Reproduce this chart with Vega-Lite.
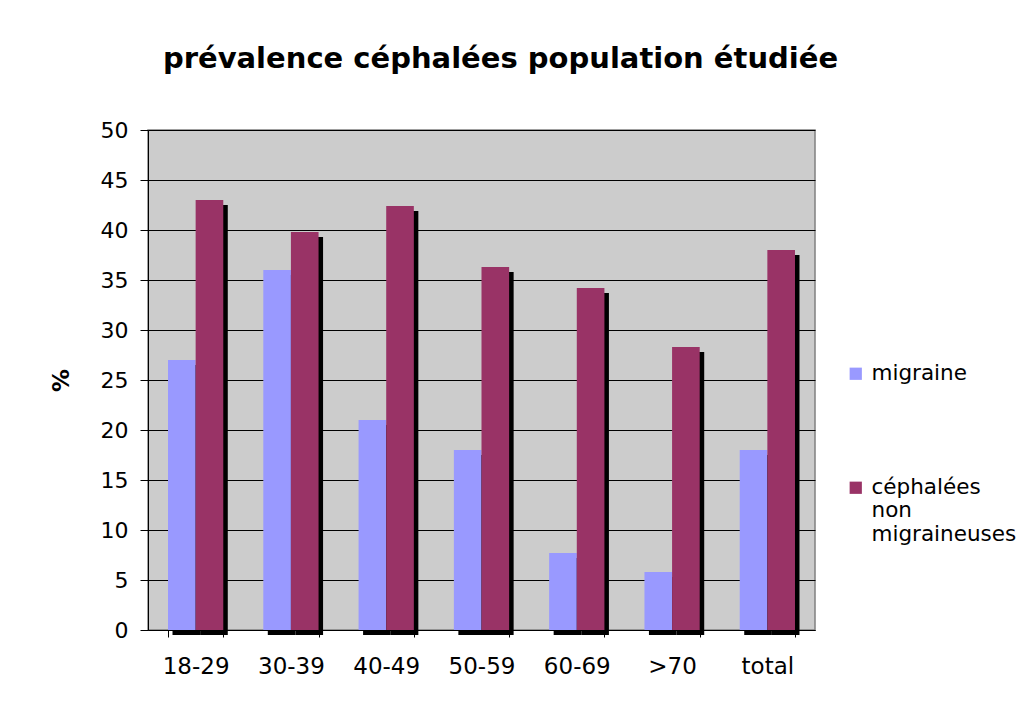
{
  "$schema": "https://vega.github.io/schema/vega-lite/v6.json",
  "width": 667,
  "height": 500,
  "autosize": {"type": "none"},
  "padding": {"left": 148, "top": 130, "right": 206, "bottom": 71},
  "background": "white",
  "title": {
    "text": "prévalence céphalées population étudiée",
    "font": "DejaVu Sans",
    "fontSize": 29,
    "fontWeight": "bold",
    "color": "black",
    "anchor": "middle",
    "dx": 19,
    "offset": 45
  },
  "data": {
    "values": [
      {"age": "18-29", "serie": "migraine", "pct": 27},
      {"age": "30-39", "serie": "migraine", "pct": 36},
      {"age": "40-49", "serie": "migraine", "pct": 21},
      {"age": "50-59", "serie": "migraine", "pct": 18},
      {"age": "60-69", "serie": "migraine", "pct": 7.7},
      {"age": ">70", "serie": "migraine", "pct": 5.8},
      {"age": "total", "serie": "migraine", "pct": 18},
      {"age": "18-29", "serie": "céphalées non migraineuses", "pct": 43},
      {"age": "30-39", "serie": "céphalées non migraineuses", "pct": 39.8},
      {"age": "40-49", "serie": "céphalées non migraineuses", "pct": 42.4},
      {"age": "50-59", "serie": "céphalées non migraineuses", "pct": 36.3},
      {"age": "60-69", "serie": "céphalées non migraineuses", "pct": 34.2},
      {"age": ">70", "serie": "céphalées non migraineuses", "pct": 28.3},
      {"age": "total", "serie": "céphalées non migraineuses", "pct": 38}
    ]
  },
  "encoding": {
    "x": {
      "field": "age",
      "type": "nominal",
      "sort": ["18-29", "30-39", "40-49", "50-59", "60-69", ">70", "total"],
      "scale": {"paddingInner": 0.42, "paddingOuter": 0.21},
      "axis": {
        "title": null,
        "labelAngle": 0,
        "labelFont": "DejaVu Sans",
        "labelFontSize": 23,
        "labelColor": "black",
        "labelPadding": 18,
        "tickBand": "extent",
        "tickSize": 7,
        "tickColor": "black",
        "domainColor": "black",
        "grid": false
      }
    },
    "y": {
      "field": "pct",
      "type": "quantitative",
      "scale": {"domain": [0, 50], "nice": false},
      "axis": {
        "title": "%",
        "titleFont": "DejaVu Sans",
        "titleFontSize": 23,
        "titleFontWeight": "bold",
        "titleColor": "black",
        "titlePadding": 27,
        "values": [0, 5, 10, 15, 20, 25, 30, 35, 40, 45, 50],
        "labelFont": "DejaVu Sans",
        "labelFontSize": 22,
        "labelColor": "black",
        "labelPadding": 12,
        "tickSize": 8,
        "tickColor": "black",
        "domainColor": "black",
        "grid": true,
        "gridColor": "black",
        "gridWidth": 1
      }
    }
  },
  "layer": [
    {
      "mark": {"type": "bar", "color": "black", "yOffset": 5, "y2Offset": 2},
      "encoding": {
        "xOffset": {
          "field": "serie",
          "type": "nominal",
          "sort": ["migraine", "céphalées non migraineuses"],
          "scale": {"paddingInner": 0, "paddingOuter": 0, "range": [4.5, 59.77]}
        }
      }
    },
    {
      "mark": {"type": "bar"},
      "encoding": {
        "xOffset": {
          "field": "serie",
          "type": "nominal",
          "sort": ["migraine", "céphalées non migraineuses"],
          "scale": {"paddingInner": 0, "paddingOuter": 0}
        },
        "color": {
          "field": "serie",
          "type": "nominal",
          "sort": ["migraine", "céphalées non migraineuses"],
          "scale": {"domain": ["migraine", "céphalées non migraineuses"], "range": ["#9999FF", "#993366"]},
          "legend": {
            "title": null,
            "orient": "none",
            "legendX": 697,
            "legendY": 233,
            "symbolType": "square",
            "symbolSize": 150,
            "symbolOpacity": 1,
            "labelFont": "DejaVu Sans",
            "labelFontSize": 21.5,
            "labelColor": "black",
            "labelLimit": 300,
            "labelOffset": 5,
            "rowPadding": 91,
            "labelExpr": "datum.label == 'céphalées non migraineuses' ? ['céphalées', 'non', 'migraineuses'] : datum.label"
          }
        }
      }
    }
  ],
  "resolve": {"scale": {"xOffset": "independent"}},
  "config": {
    "view": {"fill": "#CCCCCC", "stroke": "#808080", "strokeWidth": 1.5}
  }
}
